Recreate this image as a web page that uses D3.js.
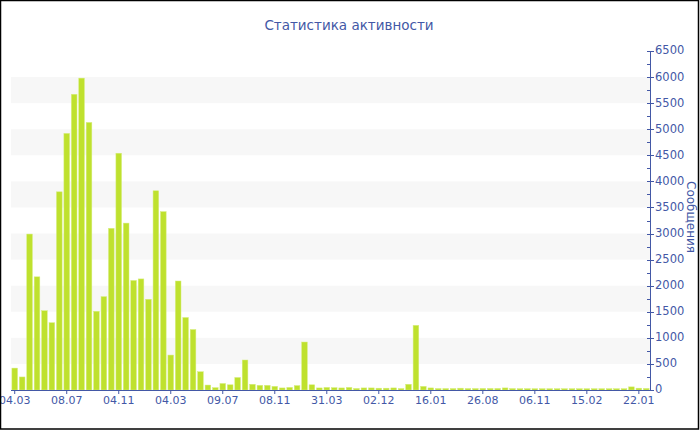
<!DOCTYPE html>
<html>
<head>
<meta charset="utf-8">
<script src="https://cdn.jsdelivr.net/npm/d3@7"></script>
<style>
  body { margin: 0; background: #fff; }
  svg { display: block; font-family: "DejaVu Sans", Verdana, sans-serif; }
</style>
</head>
<body>
<div id="chart"></div>
<script>
// messages per period
var values = [
  420, 250, 2990, 2170, 1520, 1290, 3800, 4920, 5670, 5980,
  5130, 1510, 1790, 3100, 4540, 3200, 2100, 2130, 1740, 3820,
  3420, 670, 2090, 1390, 1160, 350, 95, 45, 125, 100,
  240, 575, 110, 90, 90, 70, 40, 50, 85, 920,
  100, 40, 50, 45, 40, 50, 30, 40, 40, 35,
  35, 40, 28, 110, 1240, 70, 40, 28, 28, 28,
  35, 28, 28, 30, 30, 30, 40, 28, 26, 26,
  25, 25, 25, 25, 25, 25, 25, 25, 25, 25,
  25, 25, 25, 60, 35, 30
];
var tickLabels = ["04.03", "08.07", "04.11", "04.03", "09.07", "08.11", "31.03",
                  "02.12", "16.01", "26.08", "06.11", "15.02", "22.01"];
var tickEvery = 7;
var yMax = 6500;
var title = "Статистика активности";
var yTitle = "Сообщения";

(function () {
  var W = 700, H = 430;
  var pLeft = 11, pRight = 650, pTop = 51, pBottom = 390;
  var blue = "#4358a6";

  var svg = d3.select("#chart").append("svg").attr("width", W).attr("height", H);

  var x = d3.scaleBand().domain(d3.range(values.length)).range([pLeft, pRight]).paddingInner(0.24).paddingOuter(0.12);
  var y = d3.scaleLinear().domain([0, yMax]).range([pBottom, pTop]);

  // alternating bands
  var bands = d3.range(500, yMax, 1000);
  svg.selectAll("rect.band").data(bands).enter().append("rect")
    .attr("class", "band")
    .attr("x", pLeft).attr("width", pRight - pLeft)
    .attr("y", function (d) { return y(d + 500); })
    .attr("height", function (d) { return y(d) - y(d + 500); })
    .attr("fill", "#f7f7f7");

  // bars
  svg.selectAll("rect.bar").data(values).enter().append("rect")
    .attr("class", "bar")
    .attr("x", function (d, i) { return x(i); })
    .attr("width", x.bandwidth())
    .attr("y", function (d) { return y(d); })
    .attr("height", function (d) { return pBottom - y(d); })
    .attr("fill", "#bfe12e")
    .attr("stroke", "#d6ee7e").attr("stroke-width", 0.5);

  // x axis
  var tickIdx = tickLabels.map(function (d, i) { return i * tickEvery; });
  var xAxis = d3.axisBottom(x).tickValues(tickIdx)
    .tickFormat(function (d) { return tickLabels[d / tickEvery]; })
    .tickSize(4).tickSizeOuter(0);
  var gx = svg.append("g").attr("transform", "translate(0," + pBottom + ")").call(xAxis);
  gx.select(".domain").attr("stroke", blue).attr("d", "M" + pLeft + ",0.5H" + pRight);
  gx.selectAll(".tick line").attr("stroke", blue);
  gx.selectAll(".tick text").attr("fill", blue).attr("font-size", "11px").attr("font-family", "DejaVu Sans").attr("dy", "0.6em");

  // y axis on the right
  var gy = svg.append("g").attr("transform", "translate(" + pRight + ",0)");
  gy.append("line").attr("x1", 0.5).attr("x2", 0.5).attr("y1", pTop).attr("y2", pBottom + 1).attr("stroke", blue);
  var minor = d3.range(250, yMax, 500);
  gy.selectAll("line.minor").data(minor).enter().append("line")
    .attr("class", "minor")
    .attr("x1", -3).attr("x2", 0)
    .attr("y1", function (d) { return Math.round(y(d)) + 0.5; })
    .attr("y2", function (d) { return Math.round(y(d)) + 0.5; })
    .attr("stroke", blue);
  var major = d3.range(0, yMax + 1, 500);
  gy.selectAll("line.major").data(major).enter().append("line")
    .attr("class", "major")
    .attr("x1", -3).attr("x2", 4)
    .attr("y1", function (d) { return Math.round(y(d)) + 0.5; })
    .attr("y2", function (d) { return Math.round(y(d)) + 0.5; })
    .attr("stroke", blue);
  gy.selectAll("text.lab").data(major).enter().append("text")
    .attr("class", "lab")
    .attr("x", 5).attr("y", function (d) { return y(d); })
    .attr("dy", "0.3em")
    .attr("fill", blue).attr("font-size", "11.5px")
    .text(function (d) { return d; });

  // titles
  svg.append("text").attr("x", 349).attr("y", 30).attr("text-anchor", "middle")
    .attr("fill", blue).attr("font-size", "13.5px").text(title);
  svg.append("text").attr("transform", "translate(687,217) rotate(90)")
    .attr("text-anchor", "middle").attr("fill", blue).attr("font-size", "12px").text(yTitle);

  // frame
  svg.append("rect").attr("x", 0.5).attr("y", 0.5).attr("width", 698).attr("height", 428.5)
    .attr("fill", "none").attr("stroke", "#000").attr("stroke-width", 1.5);
})();
</script>
</body>
</html>
